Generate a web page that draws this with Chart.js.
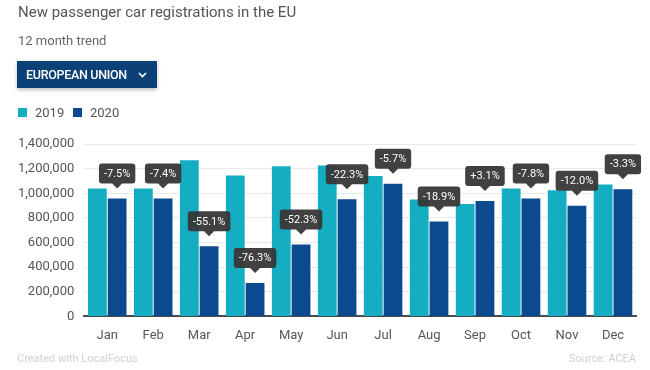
<!DOCTYPE html>
<html>
<head>
<meta charset="utf-8">
<script src="https://cdn.jsdelivr.net/npm/chart.js@4"></script>
<style>
  html, body { margin: 0; padding: 0; background: #fff; }
  body { width: 650px; height: 370px; position: relative; overflow: hidden; font-family: Roboto, "Open Sans", sans-serif; }
  #title { position: absolute; left: 18px; top: 3px; font-size: 15px; color: #555; white-space: nowrap; }
  #subtitle { position: absolute; left: 18px; top: 33px; font-size: 13px; color: #666; }
  #btn { position: absolute; left: 17px; top: 61px; width: 140px; height: 27px; background: #0b4177; color: #fff;
         font-size: 12.5px; font-weight: 500; box-shadow: 0 2px 4px rgba(0,0,0,0.25); box-sizing: border-box; padding-left: 9px; line-height: 27px; letter-spacing: -0.3px; }
  #btn svg { position: absolute; left: 121px; top: 11px; }
  #legend { position: absolute; left: 18px; top: 105px; font-size: 13px; color: #555; }
  .li { position: absolute; top: 0; white-space: nowrap; line-height: 16px; }
  .sw { display: inline-block; width: 9px; height: 9px; vertical-align: -0px; margin-right: 8px; }
  #credit { position: absolute; left: 17px; top: 352px; font-size: 11px; color: #d0d0d0; }
  #source { position: absolute; right: 14px; top: 352px; font-size: 11px; color: #d0d0d0; }
  #c { position: absolute; left: 0; top: 0; }
</style>
</head>
<body>
<canvas id="c" width="650" height="370"></canvas>
<div id="title">New passenger car registrations in the EU</div>
<div id="subtitle">12 month trend</div>
<div id="btn">EUROPEAN UNION<svg width="9" height="6" viewBox="0 0 9 6"><path d="M1 1 L4.5 4.5 L8 1" stroke="#fff" stroke-width="1.6" fill="none"/></svg></div>
<div id="legend">
  <div class="li" style="left:0"><span class="sw" style="background:#14adc1"></span>2019</div>
  <div class="li" style="left:55px"><span class="sw" style="background:#0b4a8e"></span>2020</div>
</div>
<div id="credit">Created with LocalFocus</div>
<div id="source">Source: ACEA</div>
<script>
const months = ["Jan","Feb","Mar","Apr","May","Jun","Jul","Aug","Sep","Oct","Nov","Dec"];
const values2019 = [1038000, 1038000, 1268000, 1144000, 1219000, 1226000, 1141000, 949000, 913000, 1038000, 1024000, 1071000];
const values2020 = [958000, 957000, 569000, 271000, 583000, 951000, 1077000, 770000, 938000, 957000, 899000, 1033000];
const changeLabels = ["-7.5%","-7.4%","-55.1%","-76.3%","-52.3%","-22.3%","-5.7%","-18.9%","+3.1%","-7.8%","-12.0%","-3.3%"];
const yTicks = [0, 200000, 400000, 600000, 800000, 1000000, 1200000, 1400000];

const labelPlugin = {
  id: 'changeLabels',
  afterDatasetsDraw(chart) {
    const ctx = chart.ctx;
    const meta = chart.getDatasetMeta(1);
    ctx.save();
    ctx.font = '11px Roboto, sans-serif';
    ctx.textAlign = 'center';
    ctx.textBaseline = 'middle';
    meta.data.forEach((el, i) => {
      const txt = changeLabels[i];
      const tipY = el.y - 10;
      const h = 20, ph = 5, pw = 5;
      const w = ctx.measureText(txt).width + 10;
      const x0 = el.x - w / 2, y1 = tipY - ph, y0 = y1 - h;
      ctx.fillStyle = 'rgba(55,55,55,0.95)';
      ctx.beginPath();
      const r = 3;
      ctx.moveTo(x0 + r, y0);
      ctx.lineTo(x0 + w - r, y0);
      ctx.quadraticCurveTo(x0 + w, y0, x0 + w, y0 + r);
      ctx.lineTo(x0 + w, y1 - r);
      ctx.quadraticCurveTo(x0 + w, y1, x0 + w - r, y1);
      ctx.lineTo(el.x + pw, y1);
      ctx.lineTo(el.x, tipY);
      ctx.lineTo(el.x - pw, y1);
      ctx.lineTo(x0 + r, y1);
      ctx.quadraticCurveTo(x0, y1, x0, y1 - r);
      ctx.lineTo(x0, y0 + r);
      ctx.quadraticCurveTo(x0, y0, x0 + r, y0);
      ctx.closePath();
      ctx.fill();
      ctx.fillStyle = '#fff';
      ctx.fillText(txt, el.x, y0 + h / 2 + 0.5);
    });
    ctx.restore();
  }
};

new Chart(document.getElementById('c'), {
  type: 'bar',
  data: {
    labels: months,
    datasets: [
      { label: '2019', data: values2019, backgroundColor: '#14adc1', categoryPercentage: 0.86, barPercentage: 0.95 },
      { label: '2020', data: values2020, backgroundColor: '#0b4a8e', categoryPercentage: 0.86, barPercentage: 0.95 }
    ]
  },
  options: {
    responsive: false,
    animation: false,
    events: [],
    layout: { padding: { left: 8, right: 14, top: 144, bottom: 22 } },
    plugins: { legend: { display: false }, tooltip: { enabled: false } },
    scales: {
      x: {
        grid: { display: false },
        border: { display: true, color: '#4a4a4a', width: 2 },
        ticks: { color: '#555', font: { family: 'Roboto', size: 13 }, padding: 4 }
      },
      y: {
        min: 0, max: 1400000,
        afterBuildTicks(scale) { scale.ticks = yTicks.map(v => ({ value: v })); },
        grid: { color: '#e9e9e9', drawTicks: false, lineWidth: 1 },
        border: { display: false },
        ticks: {
          color: '#555', font: { family: 'Roboto', size: 13 }, padding: 10,
          callback: v => v.toLocaleString('en-US')
        }
      }
    }
  },
  plugins: [labelPlugin]
});
</script>
</body>
</html>
